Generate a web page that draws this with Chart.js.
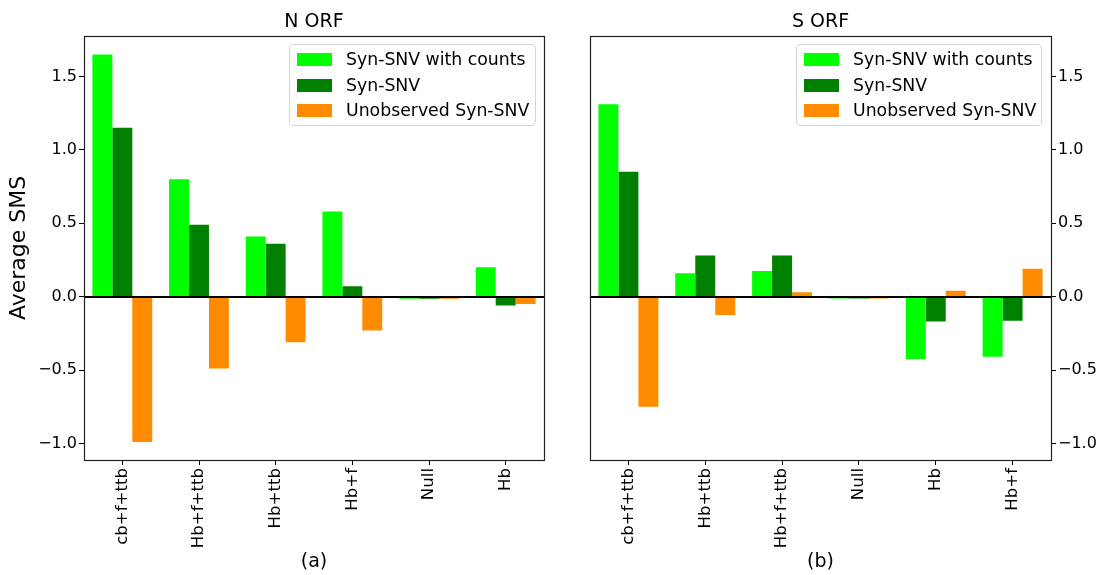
<!DOCTYPE html>
<html>
<head>
<meta charset="utf-8">
<script src="https://cdn.jsdelivr.net/npm/chart.js@4.4.0/dist/chart.umd.min.js"></script>
<style>
  body { margin: 0; background: #fff; font-family: "DejaVu Sans", sans-serif; }
  #wrap { position: relative; width: 1105px; height: 575px; overflow: hidden; }
  .panel { position: absolute; top: 0; }
  .legend {
    position: absolute; top: 44px; height: 82px;
    border: 1px solid #d6d6d6; border-radius: 4px; background: rgba(255,255,255,0.8);
    box-sizing: border-box; font-size: 17.3px; color: #000;
  }
  .legend .row { position: absolute; left: 0; height: 20px; display: flex; align-items: center; white-space: nowrap; }
  .legend .sw { width: 35px; height: 13px; margin-left: 7px; margin-right: 14px; }
</style>
</head>
<body>
<div id="wrap">
  <div class="panel" style="left:0;width:552px;height:575px;"><canvas id="chartN" width="552" height="575"></canvas></div>
  <div class="panel" style="left:552px;width:553px;height:575px;"><canvas id="chartS" width="553" height="575"></canvas></div>
  <div class="legend" id="legendN" style="left:289px;width:247px;"></div>
  <div class="legend" id="legendS" style="left:796px;width:246px;"></div>
</div>
<script>
// series names + colours
const seriesNames = ["Syn-SNV with counts", "Syn-SNV", "Unobserved Syn-SNV"];
const seriesColors = ["#00ff00", "#008000", "#ff8c00"];

// (a) N ORF
const categoriesN = ["cb+f+ttb", "Hb+f+ttb", "Hb+ttb", "Hb+f", "Null", "Hb"];
const synCountsN = [1.65, 0.80, 0.41, 0.58, -0.015, 0.20];
const synN = [1.15, 0.49, 0.36, 0.07, -0.015, -0.06];
const unobservedN = [-0.99, -0.49, -0.31, -0.23, -0.015, -0.05];

// (b) S ORF
const categoriesS = ["cb+f+ttb", "Hb+ttb", "Hb+f+ttb", "Null", "Hb", "Hb+f"];
const synCountsS = [1.31, 0.16, 0.175, -0.012, -0.425, -0.41];
const synS = [0.85, 0.28, 0.28, -0.012, -0.17, -0.165];
const unobservedS = [-0.75, -0.125, 0.03, -0.012, 0.04, 0.19];

// y axis
const yMin = -1.113;
const yMax = 1.777;
const yStep = 0.5;

Chart.defaults.font.family = "'DejaVu Sans', sans-serif";
Chart.defaults.color = "#000";

// frame + zero line
const framePlugin = {
  id: "frame",
  afterDatasetsDraw(chart) {
    const { ctx, chartArea: a, scales } = chart;
    const y0 = Math.round(scales.y.getPixelForValue(0));
    ctx.save();
    ctx.strokeStyle = "#000";
    ctx.lineWidth = 2;
    ctx.beginPath();
    ctx.moveTo(a.left, y0);
    ctx.lineTo(a.right, y0);
    ctx.stroke();
    ctx.strokeStyle = "#222";
    ctx.lineWidth = 1.2;
    ctx.strokeRect(Math.round(a.left) + 0.5, Math.round(a.top) + 0.5,
      Math.round(a.right - a.left), Math.round(a.bottom - a.top));
    ctx.restore();
  },
};

function fmtTick(v) {
  const s = Math.abs(v).toFixed(1);
  return v < -1e-9 ? "\u2212" + s : s;
}

function makeChart(id, title, xTitle, labels, values, yPos, yWidth, pad) {
  const ctx = document.getElementById(id).getContext("2d");
  return new Chart(ctx, {
    type: "bar",
    data: {
      labels: labels,
      datasets: values.map((d, i) => ({
        label: seriesNames[i],
        data: d,
        backgroundColor: seriesColors[i],
        borderWidth: 0,
        categoryPercentage: 0.78,
        barPercentage: 1.0,
      })),
    },
    options: {
      responsive: false,
      animation: false,
      layout: { padding: pad },
      plugins: {
        legend: { display: false },
        tooltip: { enabled: false },
        title: {
          display: true,
          text: title,
          fullSize: false,
          font: { size: 19, weight: "normal" },
          padding: { top: 11, bottom: 2 },
        },
      },
      scales: {
        x: {
          offset: true,
          grid: { offset: false, drawOnChartArea: false, drawTicks: true, tickLength: 5, color: "#000" },
          border: { display: false },
          ticks: { minRotation: 90, maxRotation: 90, padding: 3, font: { size: 16.6 } },
          title: { display: true, text: xTitle, font: { size: 19 }, padding: { top: 0, bottom: 2 } },
          afterFit(scale) { scale.height = 115; },
        },
        y: {
          position: yPos,
          min: yMin,
          max: yMax,
          grid: { drawOnChartArea: false, drawTicks: true, tickLength: 5, color: "#000" },
          border: { display: false },
          ticks: {
            stepSize: yStep,
            includeBounds: false,
            padding: 2,
            font: { size: 16 },
            callback: (v) => fmtTick(v),
          },
          title: {
            display: yPos === "left",
            text: "Average SMS",
            font: { size: 22 },
            padding: { top: 6, bottom: 0 },
          },
          afterFit(scale) { scale.width = yWidth; },
        },
      },
    },
    plugins: [framePlugin],
  });
}

function buildLegend(id) {
  const el = document.getElementById(id);
  const rowsY = [4, 30, 55];
  seriesNames.forEach((name, i) => {
    const row = document.createElement("div");
    row.className = "row";
    row.style.top = rowsY[i] + "px";
    const sw = document.createElement("span");
    sw.className = "sw";
    sw.style.background = seriesColors[i];
    const tx = document.createElement("span");
    tx.textContent = name;
    row.appendChild(sw);
    row.appendChild(tx);
    el.appendChild(row);
  });
}

const chartN = makeChart("chartN", "N ORF", "(a)", categoriesN,
  [synCountsN, synN, unobservedN], "left", 84, { left: 0, right: 8, top: 0, bottom: 0 });
const chartS = makeChart("chartS", "S ORF", "(b)", categoriesS,
  [synCountsS, synS, unobservedS], "right", 54, { left: 38, right: 0, top: 0, bottom: 0 });

buildLegend("legendN");
buildLegend("legendS");
</script>
</body>
</html>
